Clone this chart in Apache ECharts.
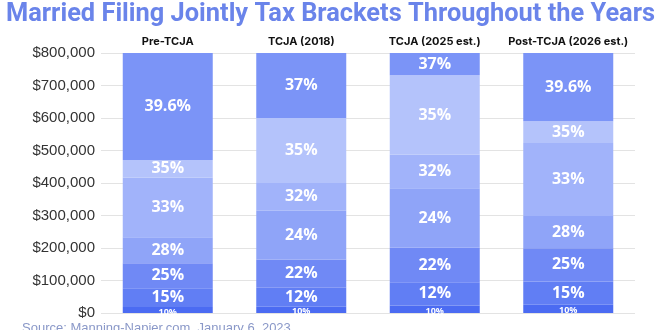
<!DOCTYPE html>
<html><head><meta charset="utf-8">
<script src="https://cdn.jsdelivr.net/npm/echarts@6/dist/echarts.min.js"></script>
<style>html,body{margin:0;padding:0;background:#fff}#c{width:660px;height:330px}</style>
</head><body><div id="c"></div>
<script>
var categories = ['Pre-TCJA', 'TCJA (2018)', 'TCJA (2025 est.)', 'Post-TCJA (2026 est.)'];
var yTicks = [0, 100000, 200000, 300000, 400000, 500000, 600000, 700000, 800000];
// bracket upper thresholds per category (bottom to top), top band fills to 800,000
var preTCJA   = [18650, 75900, 153100, 233350, 416700, 470700, 800000];
var tcja2018  = [19050, 77400, 165000, 315000, 400000, 600000, 800000];
var tcja2025  = [23200, 94300, 201050, 383900, 487450, 731200, 800000];
var post2026  = [25500, 97000, 199000, 298500, 523000, 590000, 800000];
var preRates  = ['10%', '15%', '25%', '28%', '33%', '35%', '39.6%'];
var r2018     = ['10%', '12%', '22%', '24%', '32%', '35%', '37%'];
var r2025     = ['10%', '12%', '22%', '24%', '32%', '35%', '37%'];
var r2026     = ['10%', '15%', '25%', '28%', '33%', '35%', '39.6%'];
var levelColors = ['#4b6bf2', '#617ef4', '#7089f5', '#8fa4f8', '#a1b3fa', '#b4c3fb', '#7b94f7'];

var thresholds = [preTCJA, tcja2018, tcja2025, post2026];
var rates = [preRates, r2018, r2025, r2026];

var series = [];
for (var lvl = 0; lvl < 7; lvl++) {
  var data = [];
  for (var c = 0; c < 4; c++) {
    var lo = lvl === 0 ? 0 : thresholds[c][lvl - 1];
    data.push({ value: thresholds[c][lvl] - lo, rate: rates[c][lvl] });
  }
  series.push({
    type: 'bar', stack: 'b', barWidth: 90, data: data,
    itemStyle: { color: levelColors[lvl] },
    label: {
      show: true, position: 'inside', color: '#ffffff',
      fontFamily: 'Open Sans', fontWeight: 'bold',
      fontSize: lvl === 0 ? 9 : 16,
      offset: lvl === 0 ? [0, 2] : [0, 0],
      formatter: function (p) { return p.data.rate; }
    }
  });
}

var chart = echarts.init(document.getElementById('c'));
chart.setOption({
  animation: false,
  title: {
    text: 'Married Filing Jointly Tax Brackets Throughout the Years',
    left: 1, top: -3,
    textStyle: { color: '#6a84ea', fontSize: 25.4, fontWeight: 'bold', fontFamily: 'Roboto' }
  },
  grid: { left: 101, right: 25, top: 53, bottom: 17 },
  xAxis: {
    type: 'category', data: categories, position: 'top',
    axisLine: { show: false }, axisTick: { show: false },
    axisLabel: { interval: 0, color: '#111', fontWeight: 'bold', fontSize: 11, fontFamily: 'Inter', margin: 6 }
  },
  yAxis: {
    type: 'value', min: 0, max: 800000, interval: 100000,
    axisLine: { show: false }, axisTick: { show: false },
    splitLine: { lineStyle: { color: '#e3e3e3', width: 1 } },
    axisLabel: {
      color: '#333', fontSize: 15, fontFamily: 'Liberation Sans', margin: 6,
      formatter: function (v) { return '$' + v.toLocaleString('en-US'); }
    }
  },
  graphic: [{
    type: 'text', left: 22, top: 322,
    style: { text: 'Source: Manning-Napier.com, January 6, 2023', fill: '#8a98c8', font: '13px "Liberation Sans"' }
  }],
  series: series
});
</script></body></html>
